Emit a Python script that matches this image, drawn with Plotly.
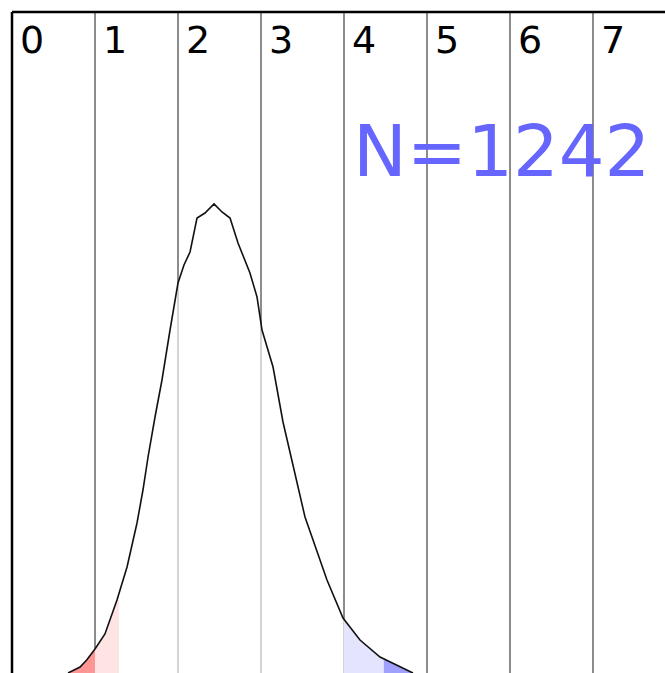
import numpy as np
import plotly.graph_objects as go

# Density curve (x in units, y in relative density units)
curve_x = [0.675, 0.70, 0.82, 0.90, 1.00, 1.12, 1.265, 1.386, 1.506, 1.578, 1.639, 1.723, 1.807,
           1.904, 2.00, 2.072, 2.145, 2.229, 2.325, 2.434, 2.53, 2.627, 2.723, 2.867, 2.952,
           3.012, 3.145, 3.265, 3.41, 3.53, 3.627, 3.795, 3.988, 4.193, 4.434, 4.675, 4.831]
curve_y = [0, 1, 6, 13, 24, 39, 73, 106, 150, 183, 216, 256, 293,
           343, 390, 408, 421, 455, 460, 469, 461, 455, 430, 400, 376,
           343, 306, 251, 198, 156, 133, 93, 55, 33, 16, 6, 0]

tick_vals = [0, 1, 2, 3, 4, 5, 6, 7]
tick_labels = ["0", "1", "2", "3", "4", "5", "6", "7"]

low_tail = [0.675, 1.0]      # dark red
low_band = [1.0, 1.29]       # light red
high_band = [4.0, 4.48]      # light blue
high_tail = [4.48, 4.831]    # dark blue

n_label = "N=1242"

PX_PER_X = 83
FIG_W = 665
FIG_H = 673
X_MAX = (FIG_W - 4) / PX_PER_X
Y_MAX = 661

fig = go.Figure()

# vertical grid lines (drawn as a trace so the under-curve fill lightens them)
vx, vy = [], []
for v in tick_vals[1:]:
    vx += [v, v, None]
    vy += [0, Y_MAX, None]
fig.add_trace(go.Scatter(x=vx, y=vy, mode="lines",
                         line=dict(color="#666666", width=1.5), hoverinfo="skip"))

# curve with semi-transparent white fill
fig.add_trace(go.Scatter(x=curve_x, y=curve_y, mode="lines", fill="tozeroy",
                         fillcolor="rgba(255,255,255,0.62)",
                         line=dict(color="rgba(0,0,0,0)", width=0), hoverinfo="skip"))


def band(lo, hi, color):
    cx = np.array(curve_x)
    cy = np.array(curve_y)
    inner = cx[(cx > lo) & (cx < hi)]
    xs = np.concatenate([[lo], inner, [hi]])
    ys = np.interp(xs, cx, cy)
    fig.add_trace(go.Scatter(x=list(xs), y=list(ys), mode="lines", fill="tozeroy",
                             fillcolor=color, line=dict(width=0, color="rgba(0,0,0,0)"),
                             hoverinfo="skip"))


band(*low_tail, "rgb(255,150,150)")
band(*low_band, "rgb(255,228,228)")
band(*high_band, "rgb(228,228,255)")
band(*high_tail, "rgb(160,160,255)")

# curve outline
fig.add_trace(go.Scatter(x=curve_x, y=curve_y, mode="lines",
                         line=dict(color="#111111", width=1.6), hoverinfo="skip"))

annotations = []
for v, t in zip(tick_vals, tick_labels):
    annotations.append(dict(x=v, y=1, xref="x", yref="paper", text=t, showarrow=False,
                            xanchor="left", yanchor="top", xshift=6, yshift=-4,
                            font=dict(family="DejaVu Sans", size=38, color="black")))
annotations.append(dict(x=(501 - 12) / 83, y=673 - 151, xref="x", yref="y", text=n_label,
                        showarrow=False, xanchor="center", yanchor="middle",
                        font=dict(family="DejaVu Sans", size=72, color="#6666ff")))

shapes = [
    dict(type="line", xref="paper", yref="paper", x0=0, x1=0, y0=0, y1=1,
         line=dict(color="black", width=2.5)),
    dict(type="line", xref="paper", yref="paper", x0=0, x1=1, y0=1, y1=1,
         line=dict(color="black", width=2.5)),
]

fig.update_layout(
    width=FIG_W, height=FIG_H,
    margin=dict(l=4, r=0, t=4, b=8),
    paper_bgcolor="white", plot_bgcolor="white",
    showlegend=False,
    xaxis=dict(range=[0, X_MAX], showgrid=False, zeroline=False, showticklabels=False,
               ticks="", fixedrange=True),
    yaxis=dict(range=[0, Y_MAX], showgrid=False, zeroline=False, showticklabels=False,
               ticks="", fixedrange=True),
    annotations=annotations,
    shapes=shapes,
)

# remove the default page margin so the figure fills the window exactly
fig.write_html("out.html", post_script="document.body.style.margin='8px 0 0 8px';document.body.style.overflow='hidden';")
